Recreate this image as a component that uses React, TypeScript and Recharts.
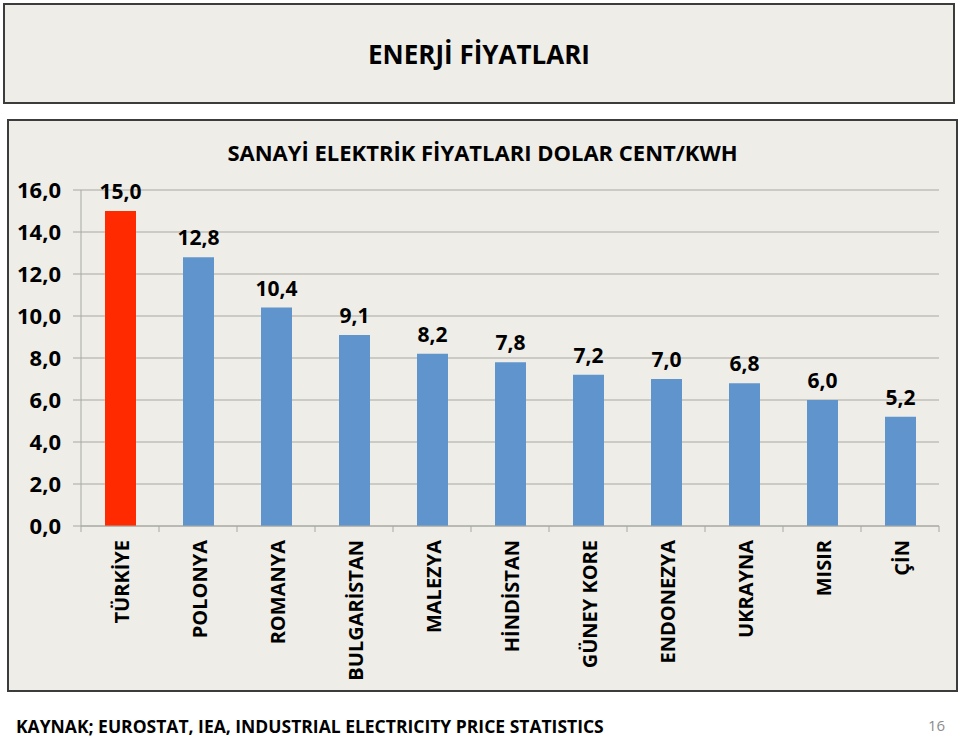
import { BarChart, Bar, XAxis, YAxis, CartesianGrid, Cell, LabelList } from 'recharts';

const countries = [
  'TÜRKİYE',
  'POLONYA',
  'ROMANYA',
  'BULGARİSTAN',
  'MALEZYA',
  'HİNDİSTAN',
  'GÜNEY KORE',
  'ENDONEZYA',
  'UKRAYNA',
  'MISIR',
  'ÇİN',
];
const prices = [15.0, 12.8, 10.4, 9.1, 8.2, 7.8, 7.2, 7.0, 6.8, 6.0, 5.2];
const yTicks = [0, 2, 4, 6, 8, 10, 12, 14, 16];

const FONT = "'Open Sans', sans-serif";
const GRID = '#a8a8a4';
const BOX_BG = '#eeede7';
const PLOT_LEFT = 81;
const PLOT_RIGHT = 939;
const BAND = (PLOT_RIGHT - PLOT_LEFT) / countries.length;

const fmt = (v: number) => v.toFixed(1).replace('.', ',');

const data = countries.map((name, i) => ({ name, price: prices[i] }));

function CountryTick({ x, y, payload, index }: { x?: number; y?: number; payload?: { value: string }; index?: number }) {
  if (x == null || y == null || !payload) return null;
  const half = BAND / 2;
  return (
    <g>
      <line x1={x - half} x2={x - half} y1={y} y2={y + 6} stroke={GRID} />
      {index === countries.length - 1 && <line x1={x + half} x2={x + half} y1={y} y2={y + 6} stroke={GRID} />}
      <text
        transform={`translate(${x + 1},${y + 14}) rotate(-90)`}
        textAnchor="end"
        dominantBaseline="central"
        fontFamily={FONT}
        fontWeight={700}
        fontSize={20}
        fill="#000"
      >
        {payload.value}
      </text>
    </g>
  );
}

export default function App() {
  return (
    <div style={{ position: 'absolute', left: 0, top: 0, width: 960, height: 737, background: '#fff', fontFamily: FONT, overflow: 'hidden' }}>
      <div
        style={{
          position: 'absolute',
          left: 3,
          top: 3,
          width: 948,
          height: 97,
          border: '2px solid #3c3c3c',
          background: BOX_BG,
          display: 'flex',
          alignItems: 'center',
          justifyContent: 'center',
          fontWeight: 700,
          fontSize: 26,
          color: '#000',
        }}
      >
        ENERJİ FİYATLARI
      </div>
      <div
        style={{
          position: 'absolute',
          left: 7,
          top: 119,
          width: 947,
          height: 569,
          border: '2px solid #3c3c3c',
          background: BOX_BG,
        }}
      />
      <div
        style={{
          position: 'absolute',
          left: 7,
          top: 137,
          width: 951,
          textAlign: 'center',
          fontWeight: 700,
          fontSize: 22,
          color: '#000',
        }}
      >
        SANAYİ ELEKTRİK FİYATLARI DOLAR CENT/KWH
      </div>
      <div style={{ position: 'absolute', left: 0, top: 0 }}>
        <BarChart
          width={960}
          height={737}
          data={data}
          margin={{ top: 190, right: 960 - PLOT_RIGHT, left: PLOT_LEFT - 70, bottom: 41 }}
          style={{ overflow: 'visible' }}
        >
          <CartesianGrid stroke={GRID} vertical={false} />
          <XAxis
            dataKey="name"
            height={170}
            interval={0}
            tickLine={false}
            tickSize={0}
            tickMargin={0}
            axisLine={{ stroke: GRID }}
            tick={<CountryTick />}
          />
          <YAxis
            domain={[0, 16]}
            ticks={yTicks}
            width={70}
            tickSize={8}
            tickMargin={12}
            tickFormatter={fmt}
            axisLine={{ stroke: GRID }}
            tickLine={{ stroke: GRID }}
            tick={{ fontFamily: FONT, fontWeight: 700, fontSize: 22, fill: '#000' }}
          />
          <Bar dataKey="price" barSize={31} isAnimationActive={false}>
            {data.map((d, i) => (
              <Cell key={d.name} fill={i === 0 ? '#ff2a00' : '#5f94cc'} />
            ))}
            <LabelList
              dataKey="price"
              position="top"
              offset={12}
              formatter={(v: number) => fmt(Number(v))}
              style={{ fontFamily: FONT, fontWeight: 700, fontSize: 21, fill: '#000' }}
            />
          </Bar>
        </BarChart>
      </div>
      <div style={{ position: 'absolute', left: 16, top: 714, fontWeight: 700, fontSize: 17.5, color: '#000', whiteSpace: 'nowrap' }}>
        KAYNAK; EUROSTAT, IEA, INDUSTRIAL ELECTRICITY PRICE STATISTICS
      </div>
      <div style={{ position: 'absolute', left: 928, top: 716, fontSize: 15, lineHeight: '18px', color: '#8c8c8c' }}>16</div>
    </div>
  );
}
